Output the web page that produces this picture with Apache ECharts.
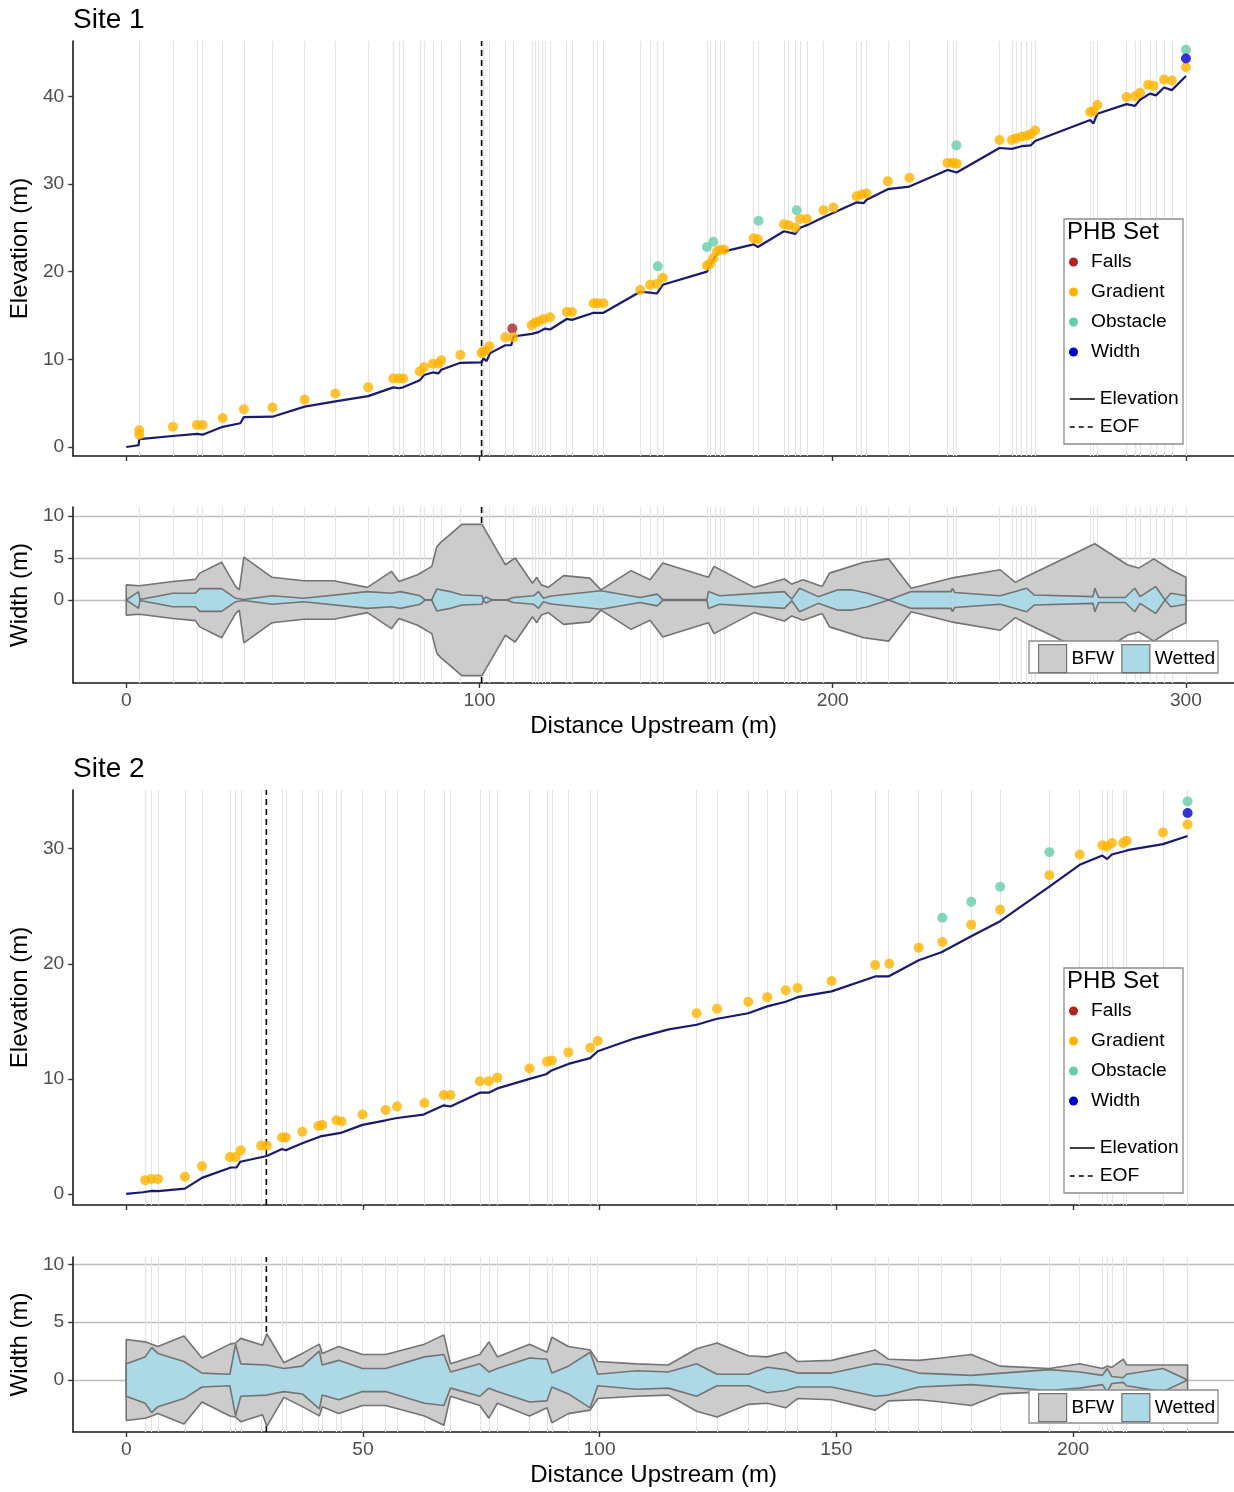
<!DOCTYPE html>
<html>
<head>
<meta charset="utf-8">
<script src="https://cdn.jsdelivr.net/npm/echarts@6/dist/echarts.min.js"></script>
<style>
html,body{margin:0;padding:0;background:#fff;}
#chart{width:1234px;height:1492px;}
</style>
</head>
<body>
<div id="chart"></div>
<script>
// ---------------- DATA ----------------
// Site 1
const s1Stations = [3.7, 13.2, 20.0, 21.6, 27.3, 33.3, 41.4, 50.5, 59.2, 68.5, 75.6, 77.2, 78.4, 83.1, 84.3, 86.8, 89.2, 94.6, 101.1, 102.8, 107.3, 109.6, 114.8, 115.8, 116.7, 117.7, 118.6, 120.0, 124.7, 126.2, 132.3, 133.4, 135.1, 145.5, 148.3, 150.2, 151.9, 164.4, 165.3, 166.7, 168.1, 169.3, 177.6, 178.8, 186.2, 187.5, 189.4, 190.8, 192.7, 197.4, 206.8, 208.2, 209.6, 215.6, 221.7, 232.5, 234.0, 235.1, 247.2, 250.7, 251.9, 253.5, 254.9, 256.1, 257.3, 272.9, 273.8, 274.9, 283.2, 285.6, 287.0, 289.8, 291.5, 293.8, 296.0, 300.0];
const s1Elevation = [[0,0.0],[3.5,0.2],[3.7,0.9],[13.2,1.25],[20.0,1.5],[21.6,1.4],[27.3,2.3],[32.3,2.7],[33.3,3.4],[41.4,3.45],[50.5,4.6],[59.2,5.2],[68.5,5.8],[75.6,6.8],[77.2,6.7],[78.4,6.8],[83.1,7.6],[84.3,8.2],[86.8,8.5],[88.4,8.4],[89.2,8.8],[94.6,9.6],[100.6,9.65],[101.1,10.1],[102.0,9.8],[103.0,10.7],[107.3,11.6],[109.0,11.6],[109.6,12.6],[114.8,12.9],[116.7,13.1],[117.2,12.9],[118.6,13.5],[120.0,13.4],[124.7,14.6],[126.2,14.5],[132.3,15.3],[135.1,15.3],[145.5,17.7],[148.3,17.6],[150.2,17.5],[151.9,18.5],[164.4,20.0],[165.3,20.7],[166.7,21.7],[168.1,22.5],[169.3,22.3],[177.6,23.1],[178.8,22.8],[186.2,24.6],[189.4,24.3],[190.8,25.0],[192.7,25.3],[197.4,26.2],[206.8,27.9],[208.7,27.8],[209.6,28.2],[215.6,29.4],[221.7,29.7],[232.5,31.6],[235.1,31.3],[247.2,34.1],[250.7,34.0],[253.5,34.3],[256.1,34.4],[257.3,34.9],[272.9,37.3],[273.8,36.9],[274.9,38.0],[283.2,39.1],[285.6,38.9],[287.0,39.6],[289.8,40.3],[291.5,40.1],[293.8,41.0],[296.0,40.7],[300.0,42.3]];
const s1Gradient = [[3.7,1.9],[3.7,1.4],[13.2,2.3],[20.0,2.5],[21.6,2.5],[27.3,3.3],[33.3,4.3],[41.4,4.5],[50.5,5.4],[59.2,6.1],[68.5,6.8],[75.6,7.8],[77.2,7.8],[78.4,7.8],[83.1,8.6],[84.3,9.1],[86.8,9.5],[88.4,9.5],[89.2,9.9],[94.6,10.5],[100.6,10.7],[101.1,10.9],[101.7,11.0],[102.8,11.5],[107.3,12.5],[109.6,12.5],[114.8,13.9],[115.8,14.2],[116.7,14.3],[118.1,14.6],[120.0,14.8],[124.7,15.4],[126.2,15.4],[132.3,16.4],[133.4,16.4],[135.1,16.4],[145.5,17.9],[148.3,18.5],[150.2,18.6],[151.9,19.3],[164.4,20.7],[165.3,20.9],[166.2,21.5],[167.2,22.3],[168.1,22.5],[169.3,22.5],[177.6,23.8],[178.8,23.7],[186.2,25.4],[187.5,25.3],[189.4,25.0],[190.8,26.0],[192.7,26.0],[197.4,27.0],[200.2,27.3],[206.8,28.6],[208.2,28.8],[209.6,28.9],[215.6,30.3],[221.7,30.7],[232.5,32.4],[234.0,32.4],[235.1,32.3],[247.2,35.0],[250.7,35.0],[251.9,35.2],[253.5,35.4],[254.9,35.5],[256.1,35.7],[257.3,36.1],[272.9,38.2],[273.8,38.3],[274.9,39.0],[283.2,39.9],[285.6,40.0],[287.0,40.4],[289.3,41.3],[290.8,41.2],[293.8,41.9],[296.0,41.8],[300.0,43.3]];
const s1Falls = [[109.3,13.5]];
const s1Obstacle = [[150.5,20.6],[164.4,22.8],[166.2,23.4],[179.0,25.8],[189.8,27.0],[235.0,34.4],[300.0,45.3]];
const s1WidthPts = [[300.0,44.3]];
const s1EOF = 100.6;
// half widths (polygon drawn symmetric about 0)
const s1Bfw = [[0,1.8],[3.7,1.7],[13.2,2.2],[19.6,2.45],[20.8,3.2],[27.0,4.5],[31.0,1.6],[32.0,1.2],[33.3,5.1],[41.3,2.7],[50.3,2.3],[58.7,2.3],[68.3,1.5],[75.1,3.4],[77.2,2.2],[82.5,3.0],[86.5,4.0],[87.9,6.3],[88.9,6.8],[95.0,9.0],[100.7,9.0],[107.3,4.2],[110.1,5.0],[115.0,2.0],[116.2,2.7],[117.5,1.8],[119.5,1.5],[123.8,2.9],[131.2,2.6],[134.4,1.2],[142.9,3.5],[148.3,2.4],[151.9,4.4],[164.8,2.7],[166.4,4.0],[177.7,1.5],[186.3,2.5],[188.4,1.9],[191.6,2.4],[197.0,1.6],[199.1,3.2],[208.8,4.5],[215.8,4.9],[222.2,1.4],[233.5,2.6],[247.4,3.6],[251.7,2.1],[254.9,2.8],[274.2,6.7],[283.4,4.2],[286.6,3.8],[290.9,4.9],[295.7,3.6],[300.0,2.7]];
const s1Wet = [[0,0.1],[3.5,1.0],[3.9,0.05],[13.2,0.8],[19.6,0.8],[20.8,1.35],[27.0,1.35],[31.0,0.2],[33.3,0.05],[41.3,0.5],[50.3,0.2],[68.3,1.0],[75.1,0.8],[77.6,1.0],[83.2,0.5],[84.6,0.02],[86.5,0.02],[87.9,1.3],[91.7,1.0],[95.0,0.6],[100.7,0.5],[101.1,0.02],[101.8,0.35],[102.3,0.35],[103.5,0.02],[107.8,0.02],[109.6,0.3],[115.3,0.5],[116.7,1.0],[118.1,0.2],[119.5,0.4],[121.0,0.5],[134.4,1.1],[145.5,0.3],[150.3,0.7],[151.9,0.05],[164.4,0.05],[164.8,1.0],[168.0,0.5],[186.3,1.0],[188.4,0.1],[190.6,1.4],[195.9,0.4],[201.3,1.2],[205.6,1.2],[209.9,0.8],[215.8,0.0],[222.2,1.0],[233.5,1.0],[233.9,1.4],[234.5,0.9],[247.4,0.5],[251.7,1.0],[254.9,1.4],[257.0,0.6],[273.7,0.4],[274.2,1.4],[275.3,0.3],[282.8,0.3],[285.5,1.4],[287.0,0.4],[291.4,1.6],[294.1,0.0],[295.7,0.8],[300.0,0.5]];

// Site 2
const s2Stations = [4.0, 5.3, 6.7, 12.4, 16.0, 21.9, 23.1, 24.2, 28.5, 32.9, 33.7, 37.2, 40.6, 41.4, 44.4, 45.5, 49.9, 54.8, 57.2, 63.0, 67.1, 68.5, 74.7, 76.6, 78.4, 85.2, 88.9, 89.9, 93.4, 98.0, 99.6, 120.5, 124.8, 131.4, 135.4, 139.3, 141.8, 149.0, 158.2, 161.0, 167.4, 172.2, 178.5, 184.6, 195.0, 201.4, 206.2, 207.2, 208.2, 210.6, 211.3, 219.0, 224.2];
const s2Elevation = [[0,0.0],[3.5,0.15],[5.5,0.26],[6.7,0.25],[12.4,0.46],[16.0,1.4],[22.1,2.3],[23.3,2.3],[24.1,2.8],[29.7,3.3],[32.9,3.9],[33.7,3.8],[37.2,4.4],[41.0,5.0],[45.3,5.3],[49.9,6.0],[54.8,6.4],[57.2,6.6],[62.8,6.9],[67.1,7.7],[68.5,7.6],[74.7,8.8],[76.6,8.8],[78.6,9.2],[85.2,10.0],[88.7,10.4],[89.7,10.7],[93.4,11.3],[98.0,11.8],[99.6,12.4],[107.3,13.5],[114.6,14.3],[120.5,14.7],[124.6,15.2],[131.4,15.7],[135.4,16.3],[139.3,16.7],[141.8,17.1],[149.0,17.6],[158.2,18.9],[161.0,18.9],[167.4,20.3],[172.2,21.0],[178.5,22.4],[184.6,23.7],[195.0,26.7],[201.4,28.6],[206.2,29.4],[207.2,29.1],[208.2,29.5],[211.0,29.8],[211.8,29.9],[219.0,30.4],[224.2,31.1]];
const s2Gradient = [[4.0,1.2],[5.3,1.3],[6.7,1.3],[12.4,1.5],[16.0,2.4],[21.9,3.2],[23.1,3.2],[24.2,3.8],[28.5,4.2],[29.7,4.2],[32.9,4.9],[33.7,4.9],[37.2,5.4],[40.6,5.9],[41.4,6.0],[44.4,6.4],[45.5,6.3],[49.9,6.9],[54.8,7.3],[57.2,7.6],[63.0,7.9],[67.1,8.6],[68.5,8.6],[74.7,9.8],[76.6,9.8],[78.4,10.1],[85.2,10.9],[88.9,11.5],[89.9,11.6],[93.4,12.3],[98.0,12.7],[99.6,13.3],[120.5,15.7],[124.8,16.1],[131.4,16.7],[135.4,17.1],[139.3,17.7],[141.8,17.9],[149.0,18.5],[158.2,19.9],[161.2,20.0],[167.4,21.4],[172.4,21.9],[178.5,23.4],[184.6,24.7],[195.0,27.7],[201.4,29.5],[206.2,30.3],[207.2,30.2],[208.2,30.5],[210.6,30.5],[211.3,30.7],[219.0,31.4],[224.2,32.1]];
const s2Falls = [];
const s2Obstacle = [[172.4,24.0],[178.5,25.4],[184.6,26.7],[195.0,29.7],[224.2,34.1]];
const s2WidthPts = [[224.2,33.1]];
const s2EOF = 29.6;
const s2Bfw = [[0,3.5],[4.0,3.3],[5.4,3.1],[6.7,2.9],[12.2,3.8],[16.0,1.9],[21.9,3.1],[23.1,3.2],[24.2,3.6],[28.8,3.0],[29.7,4.0],[33.3,1.5],[37.2,2.3],[40.8,3.1],[41.4,2.3],[44.9,2.9],[49.9,2.2],[54.8,2.2],[63.0,3.1],[67.1,3.9],[68.5,1.4],[74.7,2.2],[76.6,3.3],[78.4,2.0],[85.2,3.1],[88.9,2.4],[89.9,3.7],[93.4,2.9],[98.0,2.6],[99.6,1.6],[107.8,1.4],[114.5,1.3],[120.5,2.7],[124.8,3.2],[131.4,2.1],[135.4,2.0],[139.3,2.4],[141.8,1.6],[149.0,1.7],[158.2,2.6],[161.0,1.8],[167.4,1.7],[172.2,1.9],[178.5,2.2],[184.6,1.2],[195.0,1.0],[201.4,1.4],[206.2,1.0],[207.2,1.2],[208.2,1.1],[210.6,1.8],[211.3,1.3],[219.0,1.3],[224.2,1.3]];
const s2Wet = [[0,1.4],[4.0,2.0],[5.4,2.8],[6.7,2.3],[12.2,1.6],[16.0,0.6],[21.9,0.5],[23.1,3.1],[24.2,1.4],[29.7,1.3],[33.3,1.0],[37.2,1.2],[40.8,2.5],[41.4,1.3],[44.9,1.7],[49.9,1.0],[54.8,1.0],[63.0,2.0],[67.1,2.2],[68.5,0.7],[74.7,1.4],[76.6,0.7],[78.4,1.0],[85.2,1.9],[88.9,1.8],[89.9,0.6],[93.4,1.2],[98.0,2.4],[99.6,0.5],[107.8,0.8],[114.5,0.7],[120.5,1.4],[124.8,0.5],[131.4,0.5],[135.4,1.1],[139.3,0.9],[141.8,0.6],[149.0,0.6],[158.2,1.4],[161.0,1.3],[167.4,0.6],[178.5,0.4],[195.0,0.9],[201.4,0.7],[206.2,0.4],[207.2,1.0],[208.2,0.3],[210.6,0.2],[211.3,0.5],[219.0,1.0],[224.2,0.0]];

// tick labels
const s1XTicks = [0, 100, 200, 300];
const s2XTicks = [0, 50, 100, 150, 200];
const s1ElevTicks = [0, 10, 20, 30, 40];
const s2ElevTicks = [0, 10, 20, 30];
const widthTicks = [0, 5, 10];

// ---------------- STYLE ----------------
const FONT = "'Liberation Sans', Arial, Helvetica, sans-serif";
const COL = {Falls:'#B22222', Gradient:'#FFB300', Obstacle:'#66CDAA', Width:'#0000CD',
  elev:'#191970', bfw:'#CCCCCC', wet:'#ADD8E6', outline:'#737373', station:'#E4E4E4'};

// axis extents (panel ranges)
const R = {
  s1x:[-15, 313.6], s2x:[-11.19, 234.0],
  s1e:[-1.03, 46.3], s1w:[-9.88, 11.07],
  s2e:[-0.96, 35.1], s2w:[-4.49, 10.63]
};

function xAx(grid, ext, ticks, labels){
  return {type:'value', gridIndex:grid, min:ext[0], max:ext[1],
    axisLine:{show:true, onZero:false, lineStyle:{color:'#1a1a1a', width:1.6}},
    axisTick:{show:true, customValues:ticks, length:5, lineStyle:{color:'#333', width:1.4}},
    axisLabel:{show:labels, customValues:ticks, color:'#4D4D4D', fontSize:19.2, fontFamily:FONT, margin:8},
    splitLine:{show:false},
    name: labels ? 'Distance Upstream (m)' : '', nameLocation:'middle', nameGap:31,
    nameTextStyle:{fontSize:24, color:'#000', fontFamily:FONT}};
}
function yAx(grid, ext, ticks, name, split){
  return {type:'value', gridIndex:grid, min:ext[0], max:ext[1],
    axisLine:{show:true, onZero:false, lineStyle:{color:'#1a1a1a', width:1.6}},
    axisTick:{show:true, customValues:ticks, length:5, lineStyle:{color:'#333', width:1.4}},
    axisLabel:{show:true, customValues:ticks, color:'#4D4D4D', fontSize:19.2, fontFamily:FONT, margin:9},
    splitLine:{show:split, lineStyle:{color:'#BDBDBD', width:1.4}},
    name:name, nameLocation:'middle', nameGap:39, nameRotate:90,
    nameTextStyle:{fontSize:24, color:'#000', fontFamily:FONT}};
}

function stationSeries(idx, stations){
  return {type:'line', xAxisIndex:idx, yAxisIndex:idx, data:[], z:1, silent:true,
    markLine:{z:1, symbol:'none', silent:true, animation:false, label:{show:false},
      emphasis:{disabled:true},
      lineStyle:{color:COL.station, width:1.2, type:'solid'},
      data: stations.map(v => ({xAxis:v}))}};
}
function eofSeries(idx, x, ext, z){
  return {name:'EOF', type:'line', xAxisIndex:idx, yAxisIndex:idx, z:z, symbol:'none', silent:true,
    color:'#000', lineStyle:{color:'#000', width:1.6, type:[6,4]}, data:[[x, ext[0]],[x, ext[1]]]};
}
function bandSeries(idx, name, pts, fill, z){
  const last = pts[pts.length-1][0], first = pts[0][0];
  const up = [[first,0]].concat(pts.map(p => [p[0], p[1]])).concat([[last,0]]);
  const lo = [[first,0]].concat(pts.map(p => [p[0], -p[1]])).concat([[last,0]]);
  const base = {name:name, type:'line', xAxisIndex:idx, yAxisIndex:idx, z:z, symbol:'none', silent:true,
    color:fill, lineStyle:{color:COL.outline, width:1.6}, areaStyle:{color:fill, opacity:1, origin:0}};
  return [Object.assign({}, base, {data:up}), Object.assign({}, base, {data:lo})];
}
function pointSeries(idx, name, pts){
  return {name:name, type:'scatter', xAxisIndex:idx, yAxisIndex:idx, z:6, symbol:'circle', symbolSize:10,
    itemStyle:{color:COL[name], opacity:0.8}, data:pts};
}
function elevSeries(idx, pts){
  return {name:'Elevation', type:'line', xAxisIndex:idx, yAxisIndex:idx, z:5, symbol:'none',
    color:'#000', lineStyle:{color:COL.elev, width:2.2}, data:pts};
}

const series = [
  stationSeries(0, s1Stations), stationSeries(1, s1Stations),
  stationSeries(2, s2Stations), stationSeries(3, s2Stations),
  eofSeries(0, s1EOF, R.s1e, 4), eofSeries(1, s1EOF, R.s1w, 2),
  eofSeries(2, s2EOF, R.s2e, 4), eofSeries(3, s2EOF, R.s2w, 2),
  elevSeries(0, s1Elevation), elevSeries(2, s2Elevation),
  pointSeries(0,'Falls',s1Falls), pointSeries(0,'Gradient',s1Gradient), pointSeries(0,'Obstacle',s1Obstacle), pointSeries(0,'Width',s1WidthPts),
  pointSeries(2,'Falls',s2Falls), pointSeries(2,'Gradient',s2Gradient), pointSeries(2,'Obstacle',s2Obstacle), pointSeries(2,'Width',s2WidthPts)
].concat(bandSeries(1,'BFW',s1Bfw,COL.bfw,3), bandSeries(1,'Wetted',s1Wet,COL.wet,3.5),
         bandSeries(3,'BFW',s2Bfw,COL.bfw,3), bandSeries(3,'Wetted',s2Wet,COL.wet,3.5));

const legText = {fontSize:19.2, color:'#000', fontFamily:FONT, lineHeight:20};
function phbLegends(top){
  return [
    {orient:'vertical', left:1069, top:top+33, padding:0, itemGap:10, itemWidth:25, itemHeight:9, z:200,
     selectedMode:false, textStyle:legText,
     data:['Falls','Gradient','Obstacle','Width'].map(n => ({name:n, icon:'circle', itemStyle:{color:COL[n], opacity:1}}))},
    {orient:'vertical', left:1069, top:top+170, padding:0, itemGap:8, itemWidth:25, itemHeight:9, z:200,
     selectedMode:false, textStyle:legText,
     data:[{name:'Elevation', itemStyle:{opacity:0, color:'transparent'}, lineStyle:{color:'#000', width:1.5, type:'solid'}},
           {name:'EOF', itemStyle:{opacity:0, color:'transparent'}, lineStyle:{color:'#000', width:1.5, type:[5,4]}}]}
  ];
}
function widthLegend(top){
  return {orient:'horizontal', left:1038, top:top, padding:0, itemGap:7, itemWidth:28, itemHeight:28, z:200,
    selectedMode:false, textStyle:{fontSize:19.2, color:'#000', fontFamily:FONT},
    data:[{name:'BFW', icon:'rect', itemStyle:{color:COL.bfw, borderColor:COL.outline, borderWidth:1.2}},
          {name:'Wetted', icon:'rect', itemStyle:{color:COL.wet, borderColor:COL.outline, borderWidth:1.2}}]};
}

function box(x,y,w,h){ return {type:'rect', z:150, shape:{x:x,y:y,width:w,height:h}, style:{fill:'#fff', stroke:'#8C8C8C', lineWidth:1.3}}; }
function txt(x,y,t){ return {type:'text', z:160, left:x, top:y, style:{text:t, fontSize:24, fill:'#000', font:'24px '+FONT}}; }

const option = {
  animation:false,
  backgroundColor:'#fff',
  title:[
    {text:'Site 1', left:73, top:6, padding:0, textStyle:{fontSize:28, fontWeight:'normal', color:'#000', fontFamily:FONT}},
    {text:'Site 2', left:73, top:755, padding:0, textStyle:{fontSize:28, fontWeight:'normal', color:'#000', fontFamily:FONT}}
  ],
  grid:[
    {left:73, top:41, width:1161, height:415},
    {left:73, top:507, width:1161, height:176},
    {left:73, top:790, width:1161, height:415},
    {left:73, top:1257, width:1161, height:175}
  ],
  xAxis:[ xAx(0,R.s1x,s1XTicks,false), xAx(1,R.s1x,s1XTicks,true), xAx(2,R.s2x,s2XTicks,false), xAx(3,R.s2x,s2XTicks,true) ],
  yAxis:[ yAx(0,R.s1e,s1ElevTicks,'Elevation (m)',false), yAx(1,R.s1w,widthTicks,'Width (m)',true),
          yAx(2,R.s2e,s2ElevTicks,'Elevation (m)',false), yAx(3,R.s2w,widthTicks,'Width (m)',true) ],
  legend: phbLegends(219).concat(phbLegends(968)).concat([widthLegend(644), widthLegend(1393)]),
  graphic:{elements:[
    box(1064,219,119,225), txt(1067,220,'PHB Set'),
    box(1064,968,119,225), txt(1067,969,'PHB Set'),
    box(1029,641,189,32), box(1029,1390,189,33)
  ]},
  series: series
};
const chart = echarts.init(document.getElementById('chart'), null, {renderer:'canvas'});
chart.setOption(option);
</script>
</body>
</html>
